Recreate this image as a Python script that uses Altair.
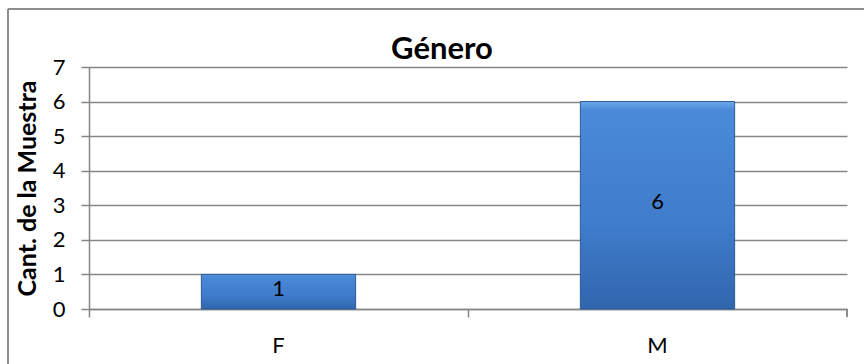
import altair as alt
import pandas as pd

categories = ["F", "M"]
values = [1, 6]
y_ticks = [0, 1, 2, 3, 4, 5, 6, 7]
title_text = ["Género"]
y_title = "Cant. de la Muestra"

df = pd.DataFrame({"cat": categories, "val": values})
tdf = pd.DataFrame({"t": title_text})

W, H = 758, 242
FONT = "Lato"
GRID = "#868686"

x_axis = alt.Axis(title=None, bandPosition=0,
                  labelAngle=0, labelFont=FONT, labelFontSize=22,
                  labelColor="#000", labelPadding=18, tickSize=8,
                  tickColor=GRID, tickWidth=1.5, domainColor=GRID,
                  domainWidth=1.5, grid=False)
y_axis = alt.Axis(title=y_title, values=y_ticks, labelOverlap=False,
                  titleFont=FONT, titleFontSize=25, titleFontWeight="bold",
                  titleColor="#000", titlePadding=12,
                  labelFont=FONT, labelFontSize=22, labelColor="#000",
                  labelPadding=16, tickSize=8, tickColor=GRID,
                  tickWidth=1.5, domainColor=GRID, domainWidth=1.5,
                  gridColor=GRID, gridWidth=1.5, gridOpacity=1)
x_scale = alt.Scale(paddingInner=0, paddingOuter=0)
y_scale = alt.Scale(domain=[0, 7], nice=False)

gradient = alt.Gradient(
    gradient="linear", x1=0, y1=0, x2=0, y2=1,
    stops=[alt.GradientStop(offset=0, color="#6FAAEA"),
           alt.GradientStop(offset=0.04, color="#4A8AD8"),
           alt.GradientStop(offset=0.6, color="#3F7CCB"),
           alt.GradientStop(offset=1, color="#3165AE")])

bars = alt.Chart(df).mark_bar(
    width=alt.RelativeBandSize(0.407), color=gradient,
    stroke="#2B5A94", strokeWidth=1
).encode(x=alt.X("cat:N", sort=categories, scale=x_scale, axis=x_axis),
         y=alt.Y("val:Q", scale=y_scale, axis=y_axis))

labels = alt.Chart(df).transform_calculate(mid="datum.val / 2").mark_text(
    font=FONT, fontSize=22, color="#000", baseline="middle", dy=-3
).encode(x=alt.X("cat:N", sort=categories, scale=x_scale, axis=x_axis),
         y=alt.Y("mid:Q", scale=y_scale, axis=y_axis), text="val:Q")

last_tick = alt.Chart(df).mark_rule(color=GRID, strokeWidth=1.5).encode(
    x=alt.value(W), y=alt.value(H), y2=alt.value(H + 8))

frame_left = alt.Chart(df).mark_rule(color=GRID, strokeWidth=1.5).encode(
    x=alt.value(-81), y=alt.value(-58), y2=alt.value(H + 80))
frame_top = alt.Chart(df).mark_rule(color=GRID, strokeWidth=1.5).encode(
    x=alt.value(-81), x2=alt.value(W + 40), y=alt.value(-58))

title = alt.Chart(tdf).mark_text(
    font=FONT, fontSize=31, fontWeight="bold", color="#000",
    baseline="alphabetic", align="center"
).encode(x=alt.value(353), y=alt.value(-8), text="t:N")

chart = alt.layer(frame_left, frame_top, bars, labels, last_tick, title).properties(
    width=W, height=H,
    background="white",
    autosize=alt.AutoSizeParams(type="none"),
    padding={"left": 89, "top": 67, "right": 17, "bottom": 55},
).configure_view(stroke=None)

chart.save("out.html", embed_options={"renderer": "svg", "actions": False})
